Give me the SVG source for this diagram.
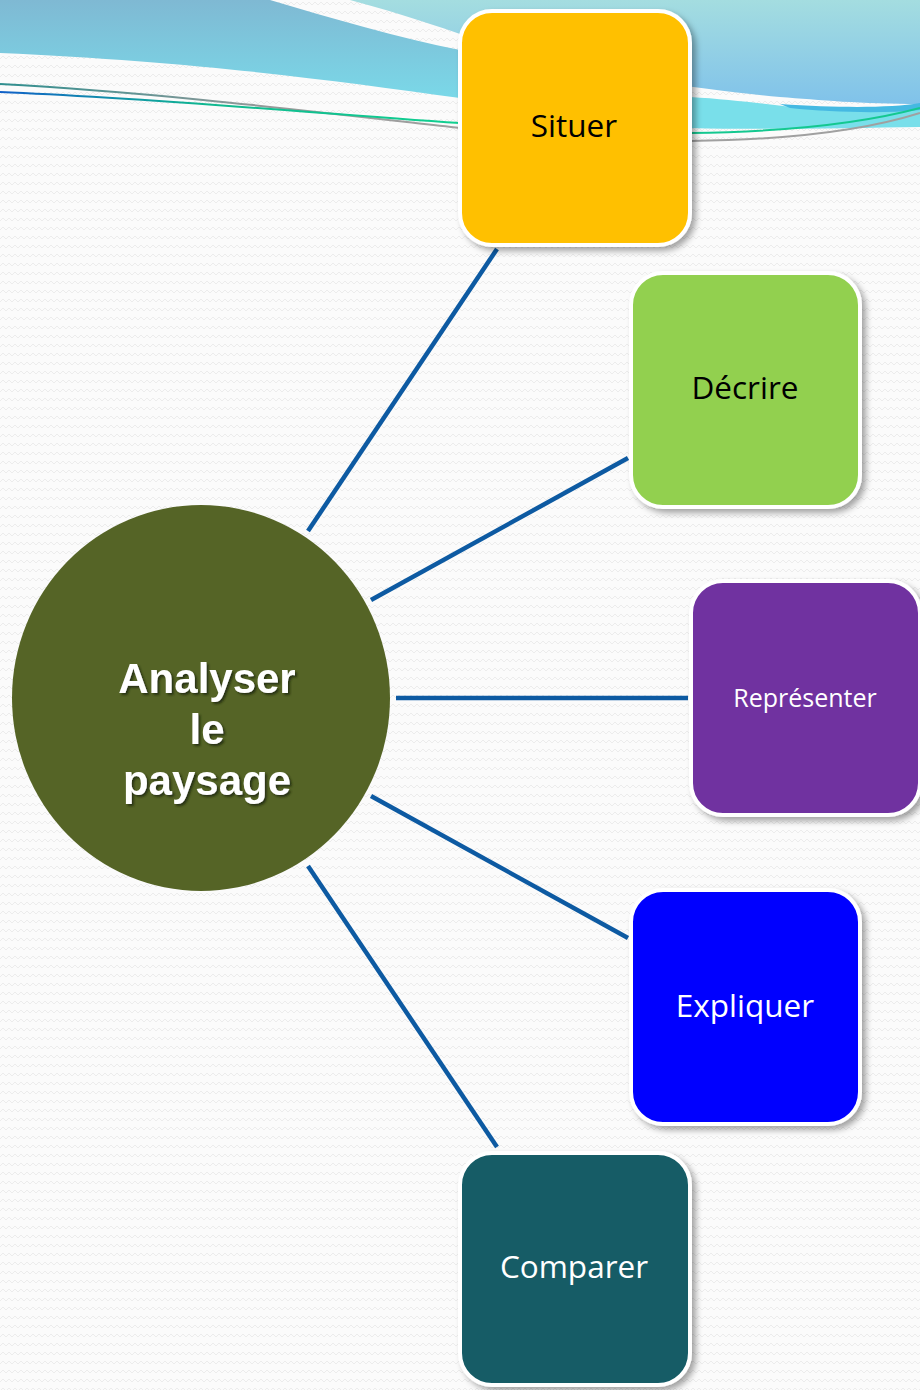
<svg xmlns="http://www.w3.org/2000/svg" width="920" height="1390" viewBox="0 0 920 1390">
  <defs>
    <pattern id="zig" width="12" height="9" patternUnits="userSpaceOnUse">
      <rect width="12" height="9" fill="#fbfbfb"/>
      <path d="M0 5 L3 2 L6 5 L9 2 L12 5" fill="none" stroke="#ececec" stroke-width="1"/>
    </pattern>
    <linearGradient id="bandL" x1="0" y1="0" x2="0" y2="1">
      <stop offset="0" stop-color="#7fb9d3"/>
      <stop offset="1" stop-color="#7ad8e8"/>
    </linearGradient>
    <linearGradient id="bandR" x1="0" y1="0" x2="0" y2="1">
      <stop offset="0" stop-color="#a4dde0"/>
      <stop offset="1" stop-color="#80c2ea"/>
    </linearGradient>
    <linearGradient id="lineA" x1="0" y1="0" x2="1" y2="0">
      <stop offset="0" stop-color="#2f8f8f"/>
      <stop offset="0.6" stop-color="#999999"/>
      <stop offset="1" stop-color="#a0a0a0"/>
    </linearGradient>
    <linearGradient id="lineB" x1="0" y1="0" x2="1" y2="0">
      <stop offset="0" stop-color="#1060c8"/>
      <stop offset="0.45" stop-color="#10b890"/>
      <stop offset="1" stop-color="#10d090"/>
    </linearGradient>
    <filter id="shadow" x="-10%" y="-10%" width="125%" height="125%">
      <feDropShadow dx="4" dy="4" stdDeviation="3" flood-color="#000" flood-opacity="0.35"/>
    </filter>
    <filter id="tshadow" x="-10%" y="-10%" width="125%" height="140%">
      <feDropShadow dx="2" dy="2" stdDeviation="1.2" flood-color="#1e2a08" flood-opacity="0.85"/>
    </filter>
  </defs>
  <style>
    .box { stroke: #ffffff; stroke-width: 4; filter: url(#shadow); }
    .lbl { font-family: "Open Sans", "Noto Sans", sans-serif; font-size: 31.5px; text-anchor: middle; }
    .conn { stroke: #0d5aa2; stroke-width: 4.5; fill: none; }
    .center { font-family: "Liberation Sans", Arial, sans-serif; font-weight: bold; font-size: 42px; fill: #ffffff; text-anchor: middle; filter: url(#tshadow); }
  </style>

  <!-- background -->
  <rect width="920" height="1390" fill="url(#zig)"/>
  <g id="decor">
    <path d="M330 0 L920 0 L920 104 C860 104 820 100 780 97 C700 90 560 70 460 34 C420 20 380 8 350 0 Z" fill="url(#bandR)"/>
    <path d="M0 0 L270 0 C330 18 400 38 460 50 L460 98 C330 80 200 62 0 53 Z" fill="url(#bandL)"/>
    <path d="M690 97 C740 100 780 106 820 110 C860 112 900 110 920 106 L920 127 C850 128 760 130 690 128 Z" fill="#79dfea"/>
    <path d="M780 104 C840 108 890 108 920 103 L920 110 C880 114 830 112 790 108 Z" fill="#45b9e2"/>
    <path d="M0 84 C150 92 300 110 460 128" fill="none" stroke="url(#lineA)" stroke-width="2"/>
    <path d="M0 92 C150 98 300 112 460 123" fill="none" stroke="url(#lineB)" stroke-width="2"/>
    <path d="M690 133 C780 132 860 124 920 108" fill="none" stroke="#14c890" stroke-width="2"/>
    <path d="M690 141 C780 140 860 132 920 113" fill="none" stroke="#a0a0a0" stroke-width="2"/>
  </g>

  <!-- connectors -->
  <g id="connectors">
    <line class="conn" x1="308" y1="531" x2="497" y2="249"/>
    <line class="conn" x1="371" y1="600" x2="628" y2="458"/>
    <line class="conn" x1="396" y1="698" x2="688" y2="698"/>
    <line class="conn" x1="371" y1="796" x2="628" y2="938"/>
    <line class="conn" x1="308" y1="866" x2="497" y2="1147"/>
  </g>

  <!-- central node -->
  <g id="node-analyser">
    <ellipse cx="201" cy="698" rx="189" ry="193" fill="#556426"/>
    <text class="center" x="207" y="693">Analyser</text>
    <text class="center" x="207" y="744">le</text>
    <text class="center" x="207" y="795">paysage</text>
  </g>

  <g id="node-situer">
    <rect class="box" x="460" y="11" width="230" height="234" rx="32" fill="#ffc000"/>
    <text class="lbl" x="574" y="137" fill="#000000">Situer</text>
  </g>

  <g id="node-decrire">
    <rect class="box" x="631" y="273" width="229" height="234" rx="32" fill="#92d050"/>
    <text class="lbl" x="745" y="399" fill="#000000">Décrire</text>
  </g>

  <g id="node-representer">
    <rect class="box" x="691" y="581" width="229" height="234" rx="32" fill="#7030a0"/>
    <text class="lbl" x="805" y="707" fill="#ffffff" style="font-size:25px">Représenter</text>
  </g>

  <g id="node-expliquer">
    <rect class="box" x="631" y="890" width="229" height="234" rx="32" fill="#0000ff"/>
    <text class="lbl" x="745" y="1017" fill="#ffffff">Expliquer</text>
  </g>

  <g id="node-comparer">
    <rect class="box" x="460" y="1153" width="230" height="232" rx="32" fill="#135b66"/>
    <text class="lbl" x="574" y="1278" fill="#ffffff">Comparer</text>
  </g>
</svg>
